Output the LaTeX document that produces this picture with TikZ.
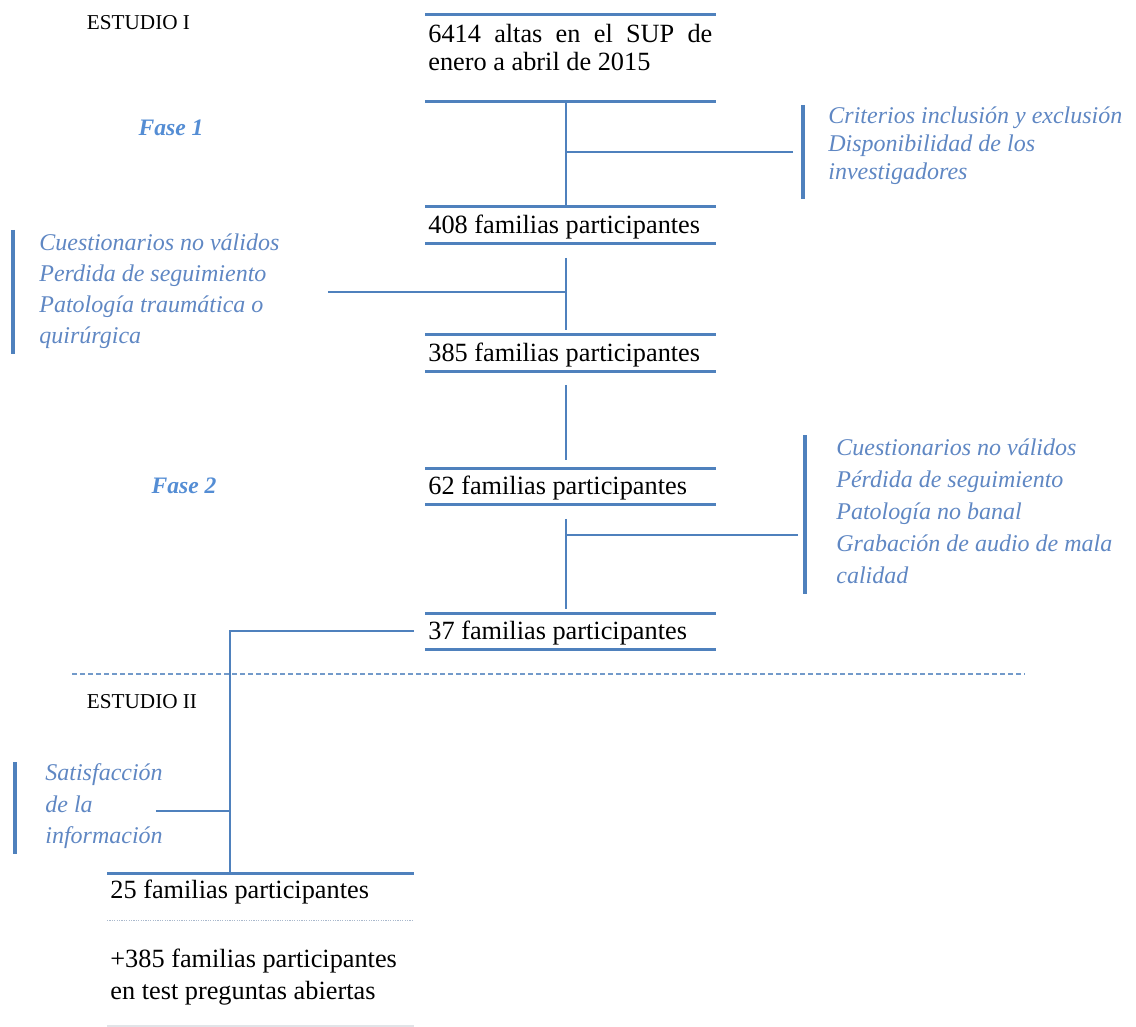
\documentclass[tikz,border=0pt]{standalone}
\usepackage{fontspec}
\setmainfont{Liberation Serif}
\definecolor{rule}{RGB}{79,129,189}
\definecolor{notetxt}{RGB}{95,135,195}
\definecolor{fase}{RGB}{84,141,212}
\definecolor{dotrule}{RGB}{170,185,205}
\definecolor{faint}{RGB}{225,228,232}
\newcommand\blacktxt{\fontsize{13.15}{14}\selectfont}
\tikzset{
  stage/.style={anchor=north west, inner xsep=1.5pt, inner ysep=0pt, font=\blacktxt},
  oneline/.style={stage, text height=13pt, text depth=5pt},
  boxrule/.style={draw=rule, line width=1.5pt},
  conn/.style={draw=rule, line width=1pt},
  bar/.style={draw=rule, line width=2pt},
  note/.style={anchor=north west, inner ysep=0pt, text=notetxt},
  faselbl/.style={text=fase, font=\fontsize{11.8}{12}\selectfont\bfseries\itshape},
  estudio/.style={font=\fontsize{10.6}{12}\selectfont},
  sep/.style={draw=rule!80, line width=1pt, dash pattern=on 2.5pt off 1.5pt},
}
\begin{document}
\begin{tikzpicture}[x=0.5pt,y=-0.5pt]
\useasboundingbox (0,0) rectangle (1136,1027);

% section and phase labels
\node[estudio] (e1) at (138.5,23) {ESTUDIO I};
\node[estudio] (e2) at (142,702) {ESTUDIO II};
\node[faselbl] (f1) at (171,128) {Fase 1};
\node[faselbl] (f2) at (184,486) {Fase 2};

% stages of the sample
\node[stage, text height=13.5pt, text depth=29.5pt] (b6414) at (425,15)
  {\parbox[t]{142pt}{\hyphenpenalty=10000 6414 altas en el SUP de enero a abril de 2015}};
\node[oneline] (b408) at (425,207) {\makebox[142pt][l]{408 familias participantes}};
\node[oneline] (b385) at (425,335) {\makebox[142pt][l]{385 familias participantes}};
\node[oneline] (b62)  at (425,468) {\makebox[142pt][l]{62 familias participantes}};
\node[oneline] (b37)  at (425,613) {\makebox[142pt][l]{37 familias participantes}};
\node[stage, text height=12.5pt, text depth=11pt] (b25) at (107,873)
  {\makebox[150pt][l]{25 familias participantes}};
\node[stage, text height=23.5pt, text depth=29pt] (b385b) at (107,920)
  {\parbox[t]{150pt}{\fontsize{13.15}{16}\selectfont +385 familias participantes\\en test preguntas abiertas}};

% rules above and below each stage
\foreach \b in {b6414,b408,b385,b62,b37}{
  \draw[boxrule] (\b.north west) -- (\b.north east);
  \draw[boxrule] (\b.south west) -- (\b.south east);
}
\draw[boxrule] (b25.north west) -- (b25.north east);
\draw[draw=dotrule, line width=0.5pt, dash pattern=on 0.6pt off 0.6pt] (b25.south west) -- (b25.south east);
\draw[draw=faint, line width=1pt] (b385b.south west) -- (b385b.south east);

% exclusion notes
\node[note, inner xsep=12.5pt, text height=9.25pt, text depth=37.25pt] (n1) at (803,105)
  {\parbox[t]{150pt}{\fontsize{12}{14}\selectfont\itshape Criterios inclusión y exclusión\\Disponibilidad de los\\investigadores}};
\node[note, inner xsep=13pt, text height=10.25pt, text depth=51.25pt] (n2) at (13,230)
  {\parbox[t]{125pt}{\fontsize{12}{15.5}\selectfont\itshape Cuestionarios no válidos\\Perdida de seguimiento\\Patología traumática o\\quirúrgica}};
\node[note, inner xsep=15.5pt, text height=10.25pt, text depth=68.75pt] (n3) at (805,435)
  {\parbox[t]{150pt}{\fontsize{12}{16}\selectfont\itshape Cuestionarios no válidos\\Pérdida de seguimiento\\Patología no banal\\Grabación de audio de mala\\calidad}};
\node[note, inner xsep=15pt, text height=9.25pt, text depth=36.25pt] (n4) at (15,762)
  {\parbox[t]{60pt}{\fontsize{12}{15.75}\selectfont\itshape Satisfacción\\de la\\información}};
\foreach \n in {n1,n2,n3,n4}{
  \draw[bar] (\n.north west) -- (\n.south west);
}

% main flow
\coordinate (spine) at ([xshift=-2pt]b6414.south);
\draw[conn] ([xshift=-2pt]b6414.south) -- ([xshift=-2pt]b408.north);
\draw[conn] ([xshift=-2pt,yshift=-7pt]b408.south) -- ([xshift=-2pt,yshift=2.5pt]b385.north);
\draw[conn] ([xshift=-2pt,yshift=-6.5pt]b385.south) -- ([xshift=-2pt,yshift=4pt]b62.north);
\draw[conn] ([xshift=-2pt,yshift=-7pt]b62.south) -- ([xshift=-2pt,yshift=2pt]b37.north);
\draw[conn] ([xshift=-5.5pt]b37.west) -| ([xshift=-15pt]b25.north);

% branches to the notes
\coordinate (n1c) at ([xshift=-5pt]n1.west);
\draw[conn] (n1c) -- (n1c -| spine);
\coordinate (n2c) at ([xshift=6pt]n2.east);
\draw[conn] (n2c) -- (n2c -| spine);
\coordinate (n3c) at ([xshift=-3.5pt,yshift=-10.5pt]n3.west);
\draw[conn] (n3c) -- (n3c -| spine);
\coordinate (lspine) at ([xshift=-15pt]b25.north);
\coordinate (n4c) at ([xshift=-20pt,yshift=-1.75pt]n4.east);
\draw[conn] (n4c) -- (n4c -| lspine);

% boundary between the two studies
\coordinate (sepL) at (72,674);
\coordinate (sepR) at (1025,674);
\draw[sep] (sepL) -- (sepR);
\end{tikzpicture}
\end{document}
